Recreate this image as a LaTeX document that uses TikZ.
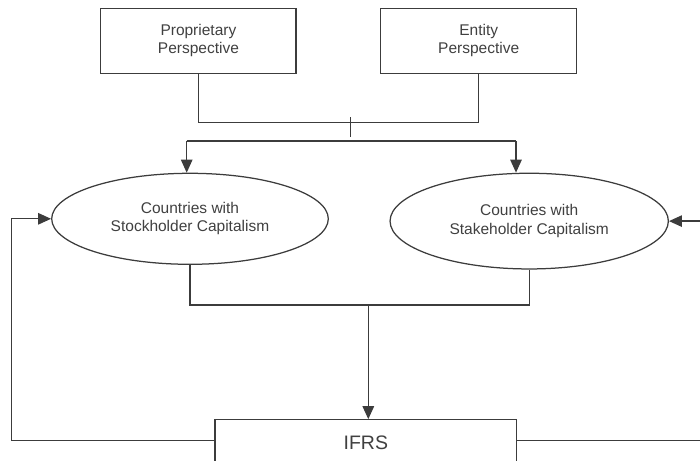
\documentclass[tikz,border=0pt]{standalone}
\usepackage{fontspec}
\setmainfont{Liberation Sans}
\usetikzlibrary{shapes.geometric,arrows.meta}
\definecolor{ln}{HTML}{3C3C3C}
\definecolor{tx}{HTML}{404040}
\begin{document}
\begin{tikzpicture}[x=1pt,y=-1pt,
  every node/.style={text=tx},
  conn/.style={draw=ln,line width=1.25pt},
  arr/.style={conn,-{Triangle[length=13pt,width=11.5pt]}},
  boxn/.style={draw=ln,line width=1.25pt,rectangle,inner sep=0pt,align=center,
    font=\fontsize{15.5}{18.3}\selectfont},
  elln/.style={draw=ln,line width=1.25pt,ellipse,inner sep=0pt,align=center,
    font=\fontsize{15.5}{18.3}\selectfont}]
\useasboundingbox (0,0) rectangle (700,460);
\clip (0,0) rectangle (700,460);
\node[boxn,minimum width=195.3pt,minimum height=65pt] (prop) at (198.4,40.8) {Proprietary\\Perspective};
\node[boxn,minimum width=196pt,minimum height=65pt] (ent) at (478.7,40.8) {Entity\\Perspective};
\node[elln,minimum width=276.6pt,minimum height=91pt] (ellL) at (190,218.8) {Countries with\\Stockholder Capitalism};
\node[elln,minimum width=278.3pt,minimum height=95.7pt] (ellR) at (529.2,221.1) {Countries with\\Stakeholder Capitalism};
\node[boxn,minimum width=301.7pt,minimum height=45pt,font=\fontsize{19.5}{22}\selectfont] (ifrs) at (365.8,442.3) {IFRS};
% top junction
\coordinate (j1) at (350.7,122.7);
\coordinate (t1) at (350.7,117.3);
\coordinate (t2) at (350.7,136.7);
\coordinate (b1) at (186.7,141);
\coordinate (b2) at (516,141);
\draw[conn] (prop.south) |- (j1) -| (ent.south);
\draw[conn] (t1) -- (t2);
\draw[conn] (b1) -- (b2);
\draw[arr] (b1) -- (b1 |- ellL.north);
\draw[arr] (b2) -- (b2 |- ellR.north);
% bottom junction
\coordinate (j3) at (368.3,305);
\draw[conn] (ellL.south) |- (j3) -| (ellR.south);
\draw[arr] (j3) -- (j3 |- ifrs.north);
% feedback loops
\coordinate (lx) at (11.7,0);
\coordinate (rx) at (712,0);
\coordinate (ly) at (0,440.8);
\draw[arr] (ifrs.west |- ly) -| (lx |- ellL.west) -- (ellL.west);
\draw[arr] (ifrs.east |- ly) -| (rx |- ellR.east) -- (ellR.east);
\end{tikzpicture}
\end{document}
